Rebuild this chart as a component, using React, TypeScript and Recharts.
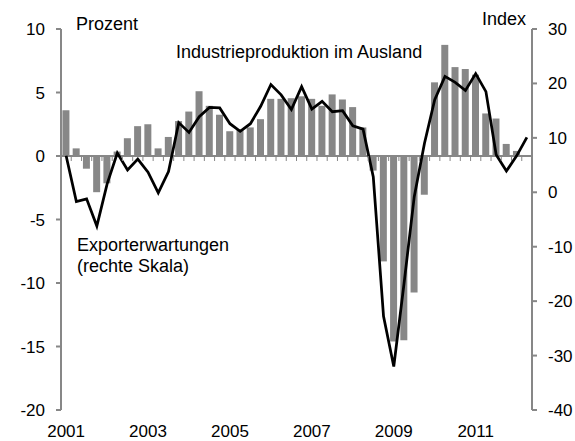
import { ComposedChart, Bar, Line, XAxis, YAxis, ReferenceLine } from 'recharts'

const W = 575
const H = 441
const TOP = 29
const BOTTOM = 31
const LEFT_W = 61
const RIGHT_W = 43
const PLOT_W = W - LEFT_W - RIGHT_W
const PLOT_H = H - TOP - BOTTOM

const YEARS = ['2001', '2002', '2003', '2004', '2005', '2006', '2007', '2008', '2009', '2010', '2011', '2012']
const quarters = YEARS.flatMap((y) => ['Q1', 'Q2', 'Q3', 'Q4'].map((q) => `${y}${q}`)).slice(0, 46)

// Industrieproduktion im Ausland, Veränderung in Prozent (linke Skala)
const industrie = [
  3.6, 0.6, -1.0, -2.85, -2.15, 0.35, 1.4, 2.35, 2.5, 0.6, 1.5, 2.75,
  3.5, 5.1, 3.95, 3.25, 1.95, 2.1, 2.25, 2.9, 4.5, 4.5, 4.55, 4.7,
  4.5, 3.95, 4.85, 4.45, 3.85, 2.25, -1.15, -8.3, -14.6, -14.5, -10.75, -3.05,
  5.8, 8.75, 7.0, 6.85, 6.4, 3.35, 2.95, 0.95, 0.4, null,
]

// Exporterwartungen, Index (rechte Skala)
const export_erw = [
  6.7, -1.7, -1.2, -6.2, 1.5, 7.2, 4.1, 6.1, 3.7, -0.1, 3.8, 12.8,
  11.0, 13.9, 15.6, 15.5, 12.6, 11.2, 12.6, 15.8, 19.8, 17.9, 15.2, 19.4,
  15.3, 16.7, 14.8, 15.0, 12.2, 11.6, 2.8, -22.8, -32, -16.8, -0.8, 9,
  17, 21.3, 20.2, 18.7, 21.8, 18.5, 6.9, 3.9, 6.7, 10.1,
]

const leftTicks = [-20, -15, -10, -5, 0, 5, 10]
const rightTicks = [-40, -30, -20, -10, 0, 10, 20, 30]

const data = quarters.map((q, i) => ({ q, industrie: industrie[i], export: export_erw[i] }))

const GREY = '#878787'
const FONT = '"Liberation Sans", Arial, sans-serif'
const FS = 17
const zeroY = TOP + (PLOT_H * 10) / 30
const band = PLOT_W / quarters.length

function QuarterTick({ x, payload, index }: any) {
  const last = index === quarters.length - 1
  return (
    <g>
      <line x1={x - band / 2} x2={x - band / 2} y1={zeroY} y2={zeroY + 5} stroke={GREY} strokeWidth={1} />
      {last && <line x1={x + band / 2} x2={x + band / 2} y1={zeroY} y2={zeroY + 5} stroke={GREY} strokeWidth={1} />}
      {index % 8 === 0 && (
        <text x={x} y={TOP + PLOT_H + 27} textAnchor="middle" fontSize={FS} fill="#000">
          {String(payload.value).slice(0, 4)}
        </text>
      )}
    </g>
  )
}

export default function App() {
  return (
    <div style={{ position: 'absolute', left: 0, top: 0, width: W, height: H, fontFamily: FONT, background: '#fff' }}>
      <ComposedChart width={W} height={H} data={data} margin={{ top: TOP, right: 0, bottom: 0, left: 0 }} barCategoryGap="14%">
        <XAxis dataKey="q" height={BOTTOM} interval={0} axisLine={false} tickLine={false} tick={<QuarterTick />} />
        <YAxis
          yAxisId="left"
          width={LEFT_W}
          domain={[-20, 10]}
          ticks={leftTicks}
          tickSize={5}
          tickMargin={11}
          stroke={GREY}
          strokeWidth={2}
          tick={{ fill: '#000', fontSize: FS }}
        />
        <YAxis
          yAxisId="right"
          orientation="right"
          width={RIGHT_W}
          domain={[-40, 30]}
          ticks={rightTicks}
          tickSize={5}
          tickMargin={11}
          stroke={GREY}
          strokeWidth={2}
          tick={{ fill: '#000', fontSize: FS, textAnchor: 'start' }}
        />
        <Bar yAxisId="left" dataKey="industrie" fill={GREY} isAnimationActive={false} />
        <ReferenceLine yAxisId="left" y={0} stroke={GREY} strokeWidth={2} />
        <Line
          yAxisId="right"
          dataKey="export"
          stroke="#000"
          strokeWidth={2.75}
          dot={false}
          type="linear"
          isAnimationActive={false}
        />
      </ComposedChart>
      <svg width={W} height={H} style={{ position: 'absolute', left: 0, top: 0, pointerEvents: 'none' }} fontFamily={FONT} fontSize={18}>
        <text x={76} y={30}>Prozent</text>
        <text x={526} y={25} textAnchor="end">Index</text>
        <text x={176} y={58}>Industrieproduktion im Ausland</text>
        <text x={77} y={251}>Exporterwartungen</text>
        <text x={77} y={272}>(rechte Skala)</text>
      </svg>
    </div>
  )
}
